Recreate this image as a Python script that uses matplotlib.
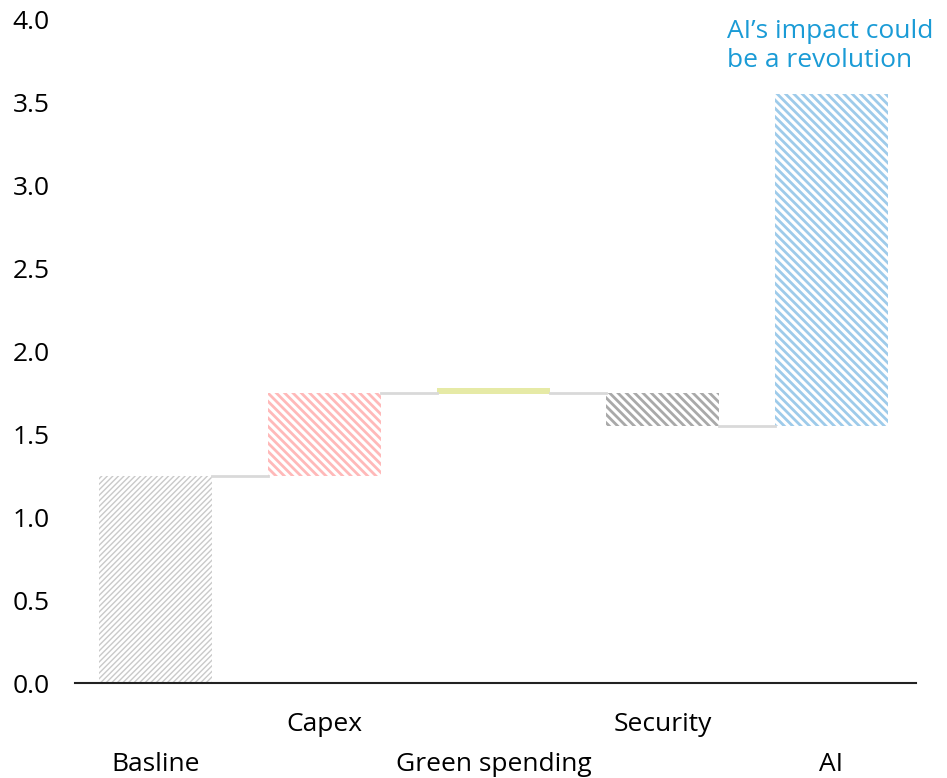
import matplotlib.pyplot as plt

plt.rcParams['font.family'] = ['Open Sans', 'DejaVu Sans']

categories = ['Basline', 'Capex', 'Green spending', 'Security', 'AI']
bottoms = [0.0, 1.25, 1.74, 1.55, 1.55]
tops = [1.25, 1.75, 1.78, 1.75, 3.55]
levels = [1.25, 1.75, 1.75, 1.55]  # connector level between bars
colors = ['#c9c9c9', '#ffb9b9', '#e6eaa6', '#a9a9a9', '#9ecbea']
hatches = ['//////', '\\\\\\\\', None, '\\\\\\\\', '\\\\\\\\']
hatch_lw = [1.0, 2.0, 0, 2.0, 2.0]

fig, ax = plt.subplots(figsize=(9.47, 7.78), dpi=100)
fig.subplots_adjust(left=0.079, right=0.967, top=0.975, bottom=0.122)

x = list(range(len(categories)))
w = 0.67
for i in x:
    h = tops[i] - bottoms[i]
    if hatches[i] is None:
        ax.bar(i, h, bottom=bottoms[i], width=w, color=colors[i], linewidth=0)
    else:
        with plt.rc_context({'hatch.linewidth': hatch_lw[i], 'hatch.color': colors[i]}):
            b = ax.bar(i, h, bottom=bottoms[i], width=w, facecolor='white',
                       edgecolor=colors[i], linewidth=0, hatch=hatches[i])
            for p in b:
                if hasattr(p, 'set_hatch_linewidth'):
                    p.set_hatch_linewidth(hatch_lw[i])

for i, lv in enumerate(levels):
    ax.plot([i + w / 2, i + 1 - w / 2], [lv, lv], color='#d9d9d9', lw=2, zorder=1)

ax.set_xlim(-0.48, 4.5)
ax.set_ylim(0, 4.0)
ax.set_yticks([0, 0.5, 1.0, 1.5, 2.0, 2.5, 3.0, 3.5, 4.0])
ax.set_yticklabels([f'{v:.1f}' for v in ax.get_yticks()])
ax.tick_params(axis='y', length=0, labelsize=19, pad=18)
ax.set_xticks([])
for s in ['left', 'right', 'top']:
    ax.spines[s].set_visible(False)
ax.spines['bottom'].set_color('#222222')
ax.spines['bottom'].set_linewidth(1.5)

for i, c in enumerate(categories):
    yoff = -0.25 if i % 2 else -0.49
    ax.text(i, yoff, c, ha='center', va='center', fontsize=19, clip_on=False)

ax.text(3.38, 4.0, 'AI\u2019s impact could\nbe a revolution', ha='left', va='top',
        fontsize=19, color='#1a9bd6', linespacing=1.2, clip_on=False)

fig.savefig('out.png', dpi=100)
